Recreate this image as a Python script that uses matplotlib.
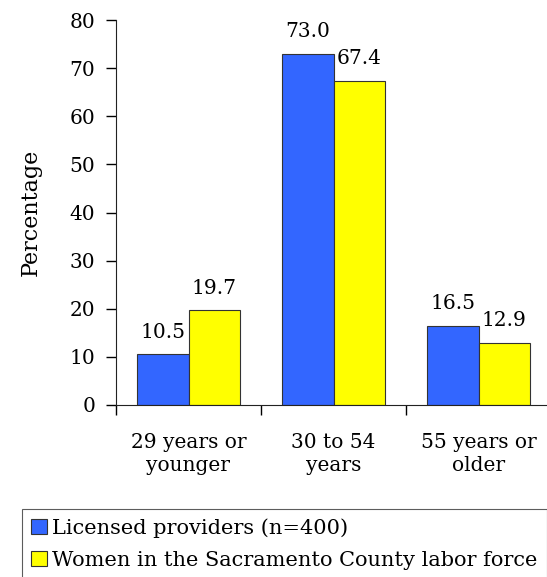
import matplotlib
matplotlib.use("Agg")
import matplotlib.pyplot as plt
import numpy as np
from matplotlib.patches import Patch

categories = ["29 years or\nyounger", "30 to 54\nyears", "55 years or\nolder"]
series_names = ["Licensed providers (n=400)", "Women in the Sacramento County labor force"]
licensed = [10.5, 73.0, 16.5]
women = [19.7, 67.4, 12.9]
yticks = [0, 10, 20, 30, 40, 50, 60, 70, 80]

plt.rcParams['font.family'] = ['DejaVu Serif']
FS = 14.5
W, H = 547, 577
fig = plt.figure(figsize=(W/100, H/100), dpi=100)
ax = fig.add_axes([116/W, (H-405)/H, 435/W, 385/H])

x = np.arange(len(categories))
bw = 0.355
colors = ["#3366FF", "#FFFF00"]
b1 = ax.bar(x - bw/2, licensed, bw, color=colors[0], edgecolor="#333333", linewidth=0.8)
b2 = ax.bar(x + bw/2, women, bw, color=colors[1], edgecolor="#333333", linewidth=0.8)

for bars, vals in ((b1, licensed), (b2, women)):
    for r, v in zip(bars, vals):
        ax.annotate(f"{v:.1f}", (r.get_x() + r.get_width()/2, v), xytext=(0, 9),
                    textcoords="offset points", ha="center", va="bottom", fontsize=FS)

ax.set_xlim(-0.5, 2.5)
ax.set_ylim(0, 80)
ax.set_yticks(yticks)
ax.tick_params(axis='y', labelsize=FS, length=7, width=1, direction='out', pad=8)
ax.set_xticks(x)
ax.set_xticklabels(categories, fontsize=FS, linespacing=1.3)
ax.tick_params(axis='x', which='major', length=0, pad=20)
ax.set_xticks([-0.5, 0.5, 1.5], minor=True)
ax.tick_params(axis='x', which='minor', length=7, width=1, direction='out')
for s in ("top", "right"):
    ax.spines[s].set_visible(False)
ax.spines['left'].set_color("#222222")
ax.spines['bottom'].set_color("#222222")
ax.set_ylabel("Percentage", fontsize=16, labelpad=20)

handles = [Patch(facecolor=c, edgecolor="#333333", linewidth=0.8) for c in colors]
leg = fig.legend(handles, series_names, loc="upper left", bbox_to_anchor=(22/W, 1 - 509/H),
                 fontsize=15, frameon=True, fancybox=False, edgecolor="#333333",
                 handlelength=0.75, handleheight=0.75, handletextpad=0.25, borderpad=0.45,
                 labelspacing=0.6, borderaxespad=0)
leg.get_frame().set_linewidth(0.8)

fig.savefig("out.png", dpi=100)
